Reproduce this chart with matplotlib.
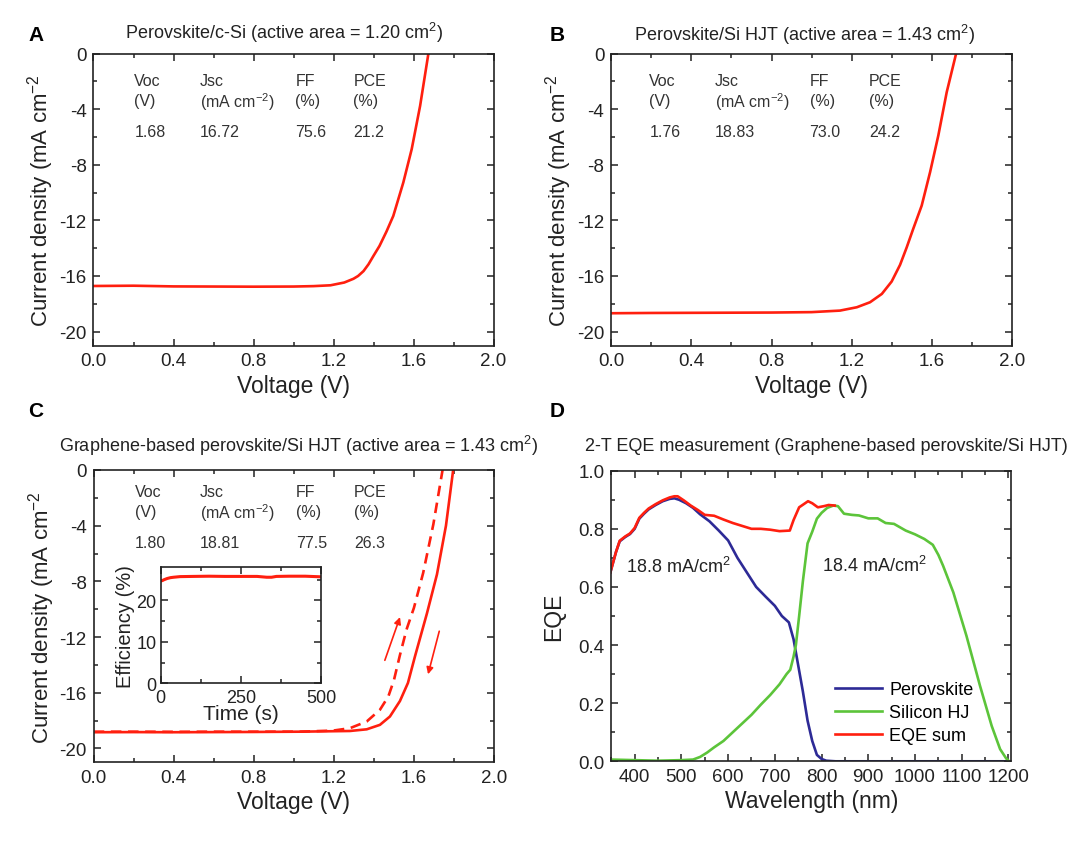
import matplotlib
matplotlib.use('Agg')
from matplotlib import pyplot as plt, ticker

plt.rcParams['font.family'] = ['Liberation Sans', 'DejaVu Sans']
plt.rcParams['mathtext.fontset'] = 'custom'
plt.rcParams['mathtext.rm'] = 'Liberation Sans'
plt.rcParams['axes.unicode_minus'] = False

# ---- data ----
a_v = [0.0, 0.2, 0.4, 0.6, 0.8, 1.0, 1.1, 1.185, 1.254, 1.30, 1.323, 1.35, 1.375, 1.40, 1.43, 1.465, 1.499,
       1.549, 1.591, 1.633, 1.674, 1.68]
a_j = [-16.72, -16.70, -16.75, -16.76, -16.77, -16.76, -16.73, -16.67, -16.47, -16.2, -16.0, -15.65, -15.16,
       -14.55, -13.84, -12.8, -11.68, -9.28, -6.88, -3.77, -0.05, 0.3]

b_v = [0.0, 0.2, 0.4, 0.6, 0.8, 1.0, 1.142, 1.226, 1.292, 1.351, 1.40, 1.442, 1.475, 1.508, 1.55, 1.592, 1.633,
       1.675, 1.722, 1.73]
b_j = [-18.68, -18.66, -18.65, -18.64, -18.63, -18.6, -18.49, -18.25, -17.89, -17.29, -16.4, -15.2, -13.95,
       -12.6, -10.94, -8.53, -5.9, -2.78, 0.0, 0.5]

c_rev_v = [0.0, 0.2, 0.4, 0.6, 0.8, 1.03, 1.28, 1.364, 1.43, 1.48, 1.53, 1.57, 1.605, 1.665, 1.715, 1.76, 1.796, 1.80]
c_rev_j = [-18.84, -18.83, -18.84, -18.83, -18.82, -18.8, -18.75, -18.63, -18.31, -17.71, -16.6, -15.3, -13.4,
           -10.3, -7.5, -4.0, 0.0, 0.3]

c_fwd_v = [0.0, 0.2, 0.4, 0.6, 0.8, 1.03, 1.197, 1.28, 1.364, 1.43, 1.472, 1.50, 1.53, 1.563, 1.60, 1.646, 1.697,
           1.743, 1.75]
c_fwd_j = [-18.8, -18.8, -18.81, -18.8, -18.8, -18.8, -18.72, -18.55, -18.07, -17.23, -16.27, -15.1, -13.3,
           -11.46, -9.9, -7.4, -3.9, 0.0, 0.4]

ins_t = [0, 5, 10, 20, 30, 40, 60, 100, 150, 200, 250, 300, 330, 345, 360, 400, 450, 500]
ins_eff = [24.7, 24.8, 25.0, 25.3, 25.5, 25.6, 25.75, 25.8, 25.85, 25.8, 25.8, 25.8, 25.6, 25.6, 25.8, 25.85, 25.85, 25.7]

pero_wl = [348, 360, 368, 380, 390, 400, 410, 420, 430, 445, 460, 475, 485, 495, 510, 525, 540, 560, 580, 600,
           620, 640, 660, 680, 700, 715, 730, 740, 750, 760, 770, 780, 790, 800, 810, 830, 900, 1000, 1100, 1206]
pero_eqe = [0.650, 0.72, 0.757, 0.772, 0.782, 0.80, 0.835, 0.852, 0.867, 0.882, 0.895, 0.903, 0.905, 0.900, 0.888,
            0.872, 0.85, 0.826, 0.794, 0.760, 0.70, 0.65, 0.60, 0.567, 0.535, 0.50, 0.478, 0.42, 0.33, 0.24, 0.14,
            0.07, 0.022, 0.008, 0.002, 0.0, 0.0, 0.0, 0.0, 0.0]

si_wl = [348, 400, 450, 500, 525, 540, 555, 570, 590, 610, 630, 650, 670, 690, 710, 725, 733, 740, 745, 752, 760,
         770, 780, 790, 800, 812, 825, 835, 848, 865, 880, 900, 920, 937, 955, 980, 1000, 1020, 1038, 1050, 1060,
         1082, 1110, 1139, 1164, 1182, 1195, 1200]
si_eqe = [0.006, 0.004, 0.002, 0.004, 0.006, 0.015, 0.03, 0.048, 0.07, 0.10, 0.13, 0.16, 0.195, 0.228, 0.265, 0.30,
          0.315, 0.36, 0.40, 0.50, 0.62, 0.75, 0.79, 0.835, 0.855, 0.872, 0.880, 0.878, 0.852, 0.848, 0.846, 0.836,
          0.836, 0.82, 0.817, 0.794, 0.781, 0.765, 0.745, 0.71, 0.673, 0.581, 0.432, 0.26, 0.122, 0.042, 0.01, 0.002]

sum_wl = [348, 360, 368, 380, 390, 400, 410, 420, 430, 445, 460, 475, 485, 492, 505, 520, 535, 550, 570, 590, 610,
          630, 650, 670, 690, 710, 732, 740, 752, 762, 771, 780, 792, 805, 815, 828]
sum_eqe = [0.650, 0.72, 0.759, 0.774, 0.784, 0.803, 0.838, 0.855, 0.87, 0.885, 0.898, 0.908, 0.912, 0.912, 0.898,
           0.88, 0.865, 0.848, 0.845, 0.832, 0.82, 0.81, 0.80, 0.80, 0.797, 0.792, 0.794, 0.83, 0.874, 0.885, 0.895,
           0.888, 0.874, 0.878, 0.882, 0.88]

stat_heads = ['Voc', 'Jsc', 'FF', 'PCE']
stat_units = ['(V)', '(mA cm$\\mathregular{^{-2}}$)', '(%)', '(%)']
stats_a = ['1.68', '16.72', '75.6', '21.2']
stats_b = ['1.76', '18.83', '73.0', '24.2']
stats_c = ['1.80', '18.81', '77.5', '26.3']

RED = '#ff1f0f'
BLUE = '#2d2a96'
GREEN = '#5cc43a'
TXT = '#222222'

W, H = 1080, 845
fig = plt.figure(figsize=(W / 100, H / 100), dpi=100)


def px_rect(l, t, r, b):
    return [l / W, 1 - b / H, (r - l) / W, (b - t) / H]


def style_axes(ax, tick_size=13.5):
    ax.tick_params(axis='both', which='both', direction='in', top=True, right=True,
                   labelsize=tick_size, colors='#222222', width=1.1, pad=5)
    ax.tick_params(which='major', length=5)
    ax.tick_params(which='minor', length=3)
    for sp in ax.spines.values():
        sp.set_linewidth(1.2)
        sp.set_color('#222222')


def jv_axes(rect, stats, text_x, text_y):
    ax = fig.add_axes(rect)
    ax.set_xlim(0, 2.0)
    ax.set_ylim(-21, 0)
    ax.xaxis.set_major_locator(ticker.MultipleLocator(0.4))
    ax.xaxis.set_minor_locator(ticker.MultipleLocator(0.2))
    ax.xaxis.set_major_formatter(ticker.FormatStrFormatter('%.1f'))
    ax.yaxis.set_major_locator(ticker.MultipleLocator(4))
    ax.yaxis.set_minor_locator(ticker.MultipleLocator(2))
    style_axes(ax)
    ax.set_xlabel('Voltage (V)', fontsize=16.5, color=TXT, labelpad=3)
    ax.set_ylabel('Current density (mA cm$\\mathregular{^{-2}}$', fontsize=16, color=TXT, labelpad=2)
    for x, head, unit, val in zip(text_x, stat_heads, stat_units, stats):
        ax.text(x, text_y[0], head, fontsize=11.5, color='#333333', va='center', ha='left')
        ax.text(x, text_y[1], unit, fontsize=11.5, color='#333333', va='center', ha='left')
        ax.text(x, text_y[2], val, fontsize=11.5, color='#333333', va='center', ha='left')
    return ax


# ---- A ----
ax_a = jv_axes(px_rect(93.5, 54.5, 493.5, 346.5), stats_a, [0.204, 0.531, 1.01, 1.30], [-1.97, -3.41, -5.61])
ax_a.plot(a_v, a_j, color=RED, lw=1.9)
fig.text(284, H - 33, 'Perovskite/c-Si (active area = 1.20 cm$\\mathregular{^2}$)', transform=None,
         fontsize=13, ha='center', va='center', color=TXT)
fig.text(36, H - 36, 'A', transform=None, fontsize=15, fontweight='bold', ha='center', va='center')

# ---- B ----
ax_b = jv_axes(px_rect(611.3, 54.5, 1011.8, 346.5), stats_b, [0.19, 0.517, 0.99, 1.287], [-1.97, -3.41, -5.61])
ax_b.plot(b_v, b_j, color=RED, lw=1.9)
fig.text(805, H - 35, 'Perovskite/Si HJT (active area = 1.43 cm$\\mathregular{^2}$)', transform=None,
         fontsize=13, ha='center', va='center', color=TXT)
fig.text(557, H - 36, 'B', transform=None, fontsize=15, fontweight='bold', ha='center', va='center')

# ---- C ----
ax_c = jv_axes(px_rect(93.7, 471, 494, 763.3), stats_c, [0.204, 0.53, 1.01, 1.30], [-1.56, -3.0, -5.2])
ax_c.plot(c_fwd_v, c_fwd_j, color=RED, lw=1.9, dashes=(4, 2.5))
ax_c.plot(c_rev_v, c_rev_j, color=RED, lw=1.9)
ax_c.annotate('', xy=(1.535, -10.38), xytext=(1.45, -13.86),
              arrowprops=dict(arrowstyle='-|>', color=RED, lw=1.2, mutation_scale=10))
ax_c.annotate('', xy=(1.667, -14.87), xytext=(1.73, -11.39),
              arrowprops=dict(arrowstyle='-|>', color=RED, lw=1.2, mutation_scale=10))
fig.text(299, H - 446, 'Graphene-based perovskite/Si HJT (active area = 1.43 cm$\\mathregular{^2}$)',
         transform=None, fontsize=13, ha='center', va='center', color=TXT)
fig.text(36, H - 412, 'C', transform=None, fontsize=15, fontweight='bold', ha='center', va='center')

ax_in = fig.add_axes(px_rect(160.8, 568.3, 321.3, 684.3))
ax_in.plot(ins_t, ins_eff, color=RED, lw=2.2)
ax_in.set_xlim(0, 500)
ax_in.set_ylim(0, 28)
ax_in.xaxis.set_major_locator(ticker.MultipleLocator(250))
ax_in.xaxis.set_minor_locator(ticker.MultipleLocator(125))
ax_in.yaxis.set_major_locator(ticker.MultipleLocator(10))
ax_in.yaxis.set_minor_locator(ticker.MultipleLocator(5))
style_axes(ax_in, tick_size=13)
ax_in.tick_params(axis='x', pad=4)
ax_in.tick_params(axis='y', pad=3)
ax_in.set_xlabel('Time (s)', fontsize=15, color=TXT, labelpad=-1)
ax_in.set_ylabel('Efficiency (%)', fontsize=14.5, color=TXT, labelpad=1)

# ---- D ----
ax_d = fig.add_axes(px_rect(611.3, 471.7, 1011.3, 762.3))
ax_d.plot(pero_wl, pero_eqe, color=BLUE, lw=1.9, label='Perovskite')
ax_d.plot(si_wl, si_eqe, color=GREEN, lw=1.9, label='Silicon HJ')
ax_d.plot(sum_wl, sum_eqe, color=RED, lw=1.9, label='EQE sum')
ax_d.set_xlim(350, 1206)
ax_d.set_ylim(0, 1.0)
ax_d.xaxis.set_major_locator(ticker.MultipleLocator(100))
ax_d.xaxis.set_minor_locator(ticker.MultipleLocator(50))
ax_d.yaxis.set_major_locator(ticker.MultipleLocator(0.2))
ax_d.yaxis.set_minor_locator(ticker.MultipleLocator(0.1))
ax_d.yaxis.set_major_formatter(ticker.FormatStrFormatter('%.1f'))
style_axes(ax_d)
ax_d.set_xlabel('Wavelength (nm)', fontsize=16.5, color=TXT, labelpad=3)
ax_d.set_ylabel('EQE', fontsize=16.5, color=TXT, labelpad=9)
ax_d.text(381, 0.673, '18.8 mA/cm$\\mathregular{^2}$', fontsize=13, color=TXT, va='center', ha='left')
ax_d.text(800, 0.675, '18.4 mA/cm$\\mathregular{^2}$', fontsize=13, color=TXT, va='center', ha='left')
ax_d.legend(loc='upper left', bbox_to_anchor=(0.56, 0.275), frameon=False, fontsize=13,
            handlelength=2.6, handletextpad=0.4, labelspacing=0.32, borderpad=0, borderaxespad=0)
fig.text(826, H - 447, '2-T EQE measurement (Graphene-based perovskite/Si HJT)', transform=None,
         fontsize=13, ha='center', va='center', color=TXT)
fig.text(557, H - 412, 'D', transform=None, fontsize=15, fontweight='bold', ha='center', va='center')

fig.savefig('out.png', dpi=100, facecolor='white')
